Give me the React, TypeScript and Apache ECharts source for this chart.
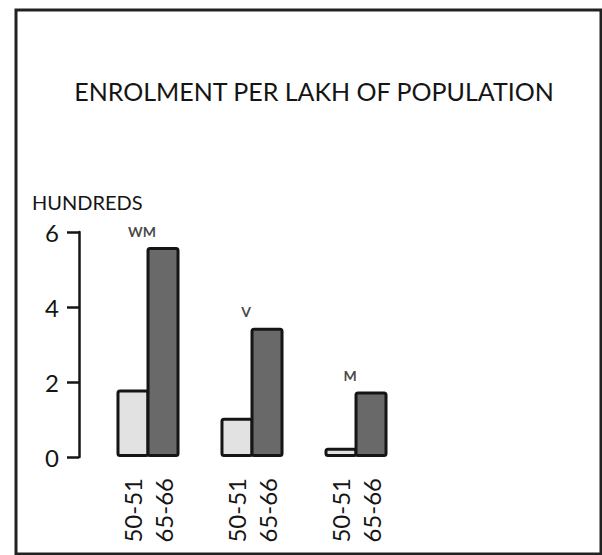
import React, { useEffect, useRef } from "react";
import * as echarts from "echarts";

const categories = ["WM", "V", "M"];
const periods = ["50-51", "65-66"];
const values5051 = [1.8, 1.05, 0.25];
const values6566 = [5.6, 3.45, 1.75];
const yTicks = [0, 2, 4, 6];

const FONT = "Lato, 'Open Sans', sans-serif";

export default function App() {
  const ref = useRef<HTMLDivElement>(null);
  useEffect(() => {
    if (!ref.current) return;
    const chart = echarts.init(ref.current, null, { renderer: "svg" });
    const underLabel = {
      show: true,
      position: ["50%", "100%"],
      rotate: 90,
      align: "right",
      verticalAlign: "middle",
      offset: [-21, 0],
      formatter: (p: any) => p.seriesName,
      fontSize: 24,
      fontFamily: FONT,
      color: "#151515",
    };
    chart.setOption({
      animation: false,
      backgroundColor: "#ffffff",
      title: {
        text: "ENROLMENT PER LAKH OF POPULATION",
        left: 309,
        top: 73,
        textAlign: "center",
        textStyle: { fontSize: 25, fontWeight: "normal", color: "#151515", fontFamily: FONT },
      },
      graphic: [
        {
          type: "rect",
          shape: { x: 16, y: 10, width: 585, height: 544 },
          style: { fill: "none", stroke: "#222", lineWidth: 3 },
          silent: true,
        },
      ],
      grid: { left: 96, top: 232, width: 312, height: 225 },
      xAxis: {
        type: "category",
        data: categories,
        axisLine: { show: false },
        axisTick: { show: false },
        axisLabel: { show: false },
      },
      yAxis: {
        type: "value",
        min: yTicks[0],
        max: yTicks[yTicks.length - 1],
        interval: 2,
        offset: 17,
        name: "HUNDREDS",
        nameLocation: "end",
        nameGap: 20,
        nameTextStyle: {
          fontSize: 20,
          color: "#151515",
          fontFamily: FONT,
          align: "left",
          padding: [0, 0, 0, -47],
        },
        splitLine: { show: false },
        axisLine: { show: true, lineStyle: { color: "#151515", width: 2.5 } },
        axisTick: { show: true, length: 12, lineStyle: { color: "#151515", width: 2.5 } },
        axisLabel: { fontSize: 24, color: "#151515", fontFamily: FONT, margin: 20 },
      },
      series: [
        {
          name: periods[0],
          type: "bar",
          data: values5051,
          barWidth: 33,
          barGap: "-9%",
          itemStyle: { color: "#e2e2e2", borderColor: "#151515", borderWidth: 3, borderRadius: 2 },
          label: underLabel,
        },
        {
          name: periods[1],
          type: "bar",
          data: values6566,
          barWidth: 33,
          barGap: "-9%",
          itemStyle: { color: "#696969", borderColor: "#151515", borderWidth: 3, borderRadius: 2 },
          label: underLabel,
        },
        {
          name: "group",
          type: "scatter",
          data: values6566,
          symbolSize: 0,
          silent: true,
          itemStyle: { color: "transparent" },
          label: {
            show: true,
            position: "top",
            distance: 9,
            offset: [-6, 0],
            formatter: (p: any) => p.name,
            fontSize: 14,
            fontWeight: "bold",
            fontFamily: FONT,
            color: "#151515",
          },
        },
      ],
    } as any);
    return () => chart.dispose();
  }, []);
  return (
    <div
      ref={ref}
      style={{ position: "fixed", left: 0, top: 0, width: 602, height: 555 }}
    />
  );
}
